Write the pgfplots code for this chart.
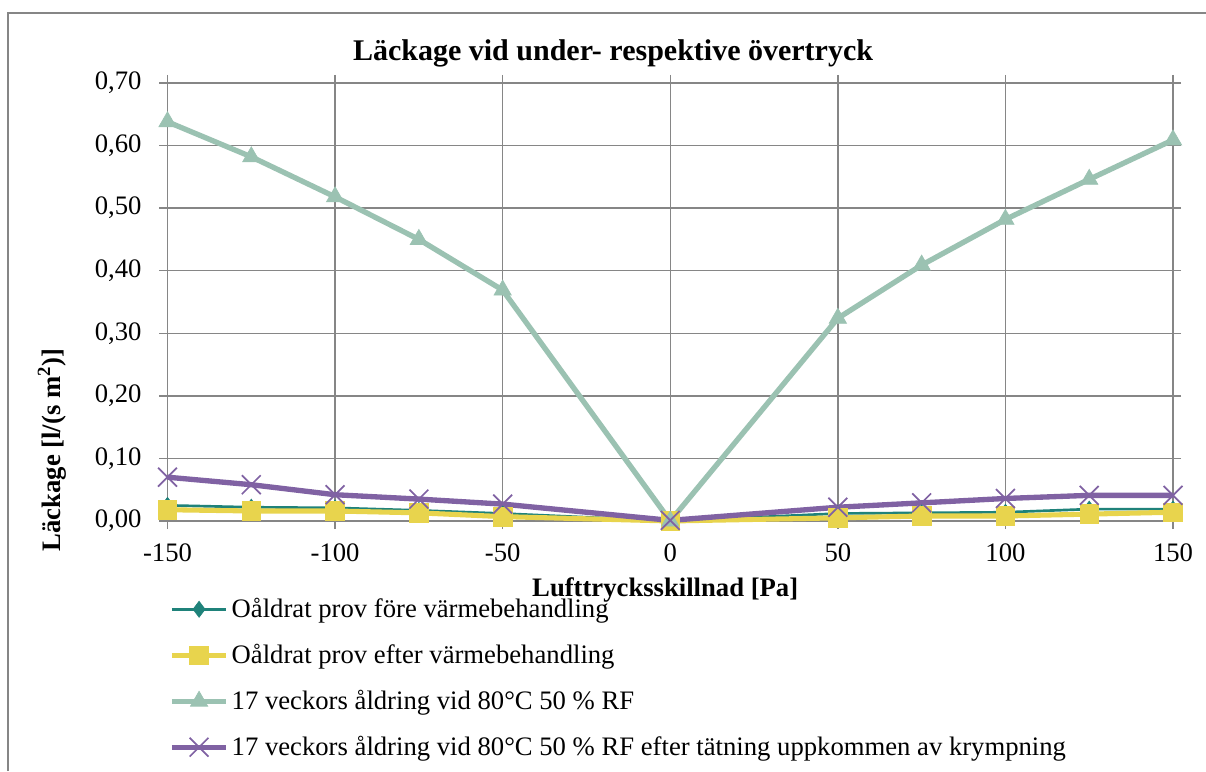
\documentclass[border=0pt]{standalone}
\usepackage{pgfplots}
\pgfplotsset{compat=1.18}
\usepackage{fontspec}
\setmainfont{Liberation Serif}
\definecolor{cteal}{RGB}{31,130,122}
\definecolor{cyel}{RGB}{232,212,77}
\definecolor{cgreen}{RGB}{155,194,178}
\definecolor{cpurp}{RGB}{128,98,163}
\definecolor{cgrid}{RGB}{134,134,134}
\newcommand{\fs}{\fontsize{20}{24}\selectfont}
\begin{document}
\begin{tikzpicture}
\useasboundingbox (-125.625pt,-187.5pt) rectangle (778.875pt,390.75pt);
\draw[cgrid,line width=1.1pt] (-119.625pt,-187.5pt) -- (-119.625pt,381pt) -- (778.875pt,381pt);
\begin{axis}[
  at={(0,0)}, anchor=south west,
  scale only axis, width=754.125pt, height=328.5pt,
  xmin=-150, xmax=150, ymin=0, ymax=0.7,
  xtick={-150,-100,-50,0,50,100,150},
  xticklabels={-150,-100,-50,0,50,100,150},
  ytick={0,0.1,0.2,0.3,0.4,0.5,0.6,0.7},
  yticklabel style={/pgf/number format/.cd, use comma, fixed, fixed zerofill, precision=2, assume math mode=true, /tikz/.cd, xshift=-10pt},
  xticklabel style={yshift=-7.5pt},
  ticklabel style={font=\fs},
  tick align=outside, major tick length=6pt,
  tick style={cgrid, line width=1.1pt},
  axis line style={cgrid, line width=1.1pt},
  grid=major, major grid style={cgrid, line width=1.1pt},
  clip=false,
  title={\textbf{Läckage vid under- respektive övertryck}},
  title style={font=\fontsize{22.5}{27}\selectfont, at={(axis description cs:0.4431,1)}, anchor=center, yshift=16pt},
  xlabel={\textbf{Lufttrycksskillnad [Pa]}},
  xlabel style={font=\fs, at={(axis description cs:0.4950,0)}, anchor=center, yshift=-52pt},
  ylabel={\textbf{Läckage [l/(s m\textsuperscript{2})]}},
  ylabel style={font=\fs, at={(axis description cs:-0.1149,0.162)}, anchor=center, rotate=0},
  legend style={font=\fs, at={(axis description cs:0.0,0)}, anchor=north west, yshift=-54pt, xshift=-2pt, draw=none, fill=none, row sep=14.5pt, cells={anchor=west}},
  legend cell align=left,
  legend image code/.code={\draw[mark repeat=2,mark phase=2] plot coordinates {(0cm,0cm) (0.72cm,0cm) (1.44cm,0cm)};},
]
\addplot[cteal, line width=2pt, mark=diamond*, mark size=6pt, mark options={solid, line width=0.5pt}] coordinates {
(-150,0.025) (-125,0.022) (-100,0.021) (-75,0.017) (-50,0.012) (0,0.0) (50,0.012) (75,0.013) (100,0.014) (125,0.019) (150,0.019)};
\addlegendentry{Oåldrat prov före värmebehandling}
\addplot[cyel, line width=3.8pt, mark=square*, mark size=7pt, mark options={solid, line width=0.5pt}] coordinates {
(-150,0.018) (-125,0.016) (-100,0.016) (-75,0.013) (-50,0.007) (0,0.0) (50,0.005) (75,0.008) (100,0.008) (125,0.011) (150,0.014)};
\addlegendentry{Oåldrat prov efter värmebehandling}
\addplot[cgreen, line width=4pt, mark=triangle*, mark size=7.5pt, mark options={solid, line width=0.5pt}] coordinates {
(-150,0.638) (-125,0.582) (-100,0.518) (-75,0.450) (-50,0.369) (0,0.0) (50,0.324) (75,0.409) (100,0.482) (125,0.546) (150,0.609)};
\addlegendentry{17 veckors åldring vid 80°C 50 \% RF}
\addplot[cpurp, line width=4pt, mark=x, mark size=10pt, mark options={solid, line width=1.3pt}] coordinates {
(-150,0.070) (-125,0.058) (-100,0.042) (-75,0.035) (-50,0.027) (0,0.001) (50,0.022) (75,0.029) (100,0.036) (125,0.041) (150,0.041)};
\addlegendentry{17 veckors åldring vid 80°C 50 \% RF efter tätning uppkommen av krympning}
\end{axis}
\end{tikzpicture}
\end{document}
